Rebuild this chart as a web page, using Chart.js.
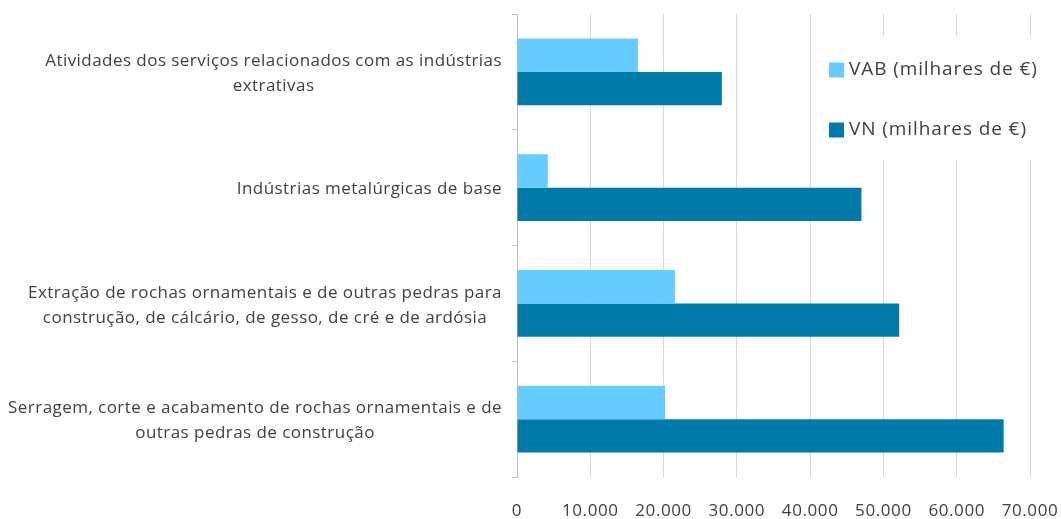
<!DOCTYPE html>
<html>
<head>
<meta charset="utf-8">
<script src="https://cdn.jsdelivr.net/npm/chart.js@4/dist/chart.umd.min.js"></script>
<style>
  html, body { margin: 0; padding: 0; background: #ffffff; overflow: hidden; }
  .wrap { position: relative; width: 1061px; height: 519px; }
  canvas { display: block; }
</style>
</head>
<body>
<div class="wrap"><canvas id="chart"></canvas></div>
<script>
// categories (each one split in lines as in the original)
var categories = [
  ['Atividades dos serviços relacionados com as indústrias', 'extrativas'],
  ['Indústrias metalúrgicas de base'],
  ['Extração de rochas ornamentais e de outras pedras para', 'construção, de cálcário, de gesso, de cré e de ardósia'],
  ['Serragem, corte e acabamento de rochas ornamentais e de', 'outras pedras de construção']
];
var seriesNames = ['VAB (milhares de €)', 'VN (milhares de €)'];
var vab = [16500, 4200, 21550, 20200];
var vn = [27950, 47000, 52150, 66400];
var tickValues = [0, 10000, 20000, 30000, 40000, 50000, 60000, 70000];

var textColor = '#404040';
var fontFamily = "'Open Sans', sans-serif";

function fmt(v){
    return v.toString().replace(/\B(?=(\d{3})+(?!\d))/g, '.');
}

// a bit of letter spacing for all text, like the original
var spacingPlugin = {
    id: 'spacing',
    beforeDraw: function(chart){
        chart.ctx.letterSpacing = '0.6px';
    }
};

// y labels: block right aligned, lines centred inside block (like the original)
var yLabelsPlugin = {
    id: 'yLabels',
    afterDraw: function(chart){
        var ctx = chart.ctx;
        var yScale = chart.scales.y;
        var rightEdge = chart.chartArea.left - 15;
        var lineH = 25;
        ctx.save();
        ctx.letterSpacing = '0.45px';
        ctx.font = '17px ' + fontFamily;
        ctx.fillStyle = textColor;
        ctx.textAlign = 'center';
        ctx.textBaseline = 'middle';
        categories.forEach(function(lines, i){
            var w = 0;
            lines.forEach(function(l){ w = Math.max(w, ctx.measureText(l).width); });
            var cx = rightEdge - w / 2;
            var cy = yScale.getPixelForValue(i) + 2;
            var top = cy - (lines.length - 1) * lineH / 2;
            lines.forEach(function(l, k){
                ctx.fillText(l, cx, top + k * lineH);
            });
        });
        ctx.restore();
    }
};

// legend drawn over the plot area, on a white box
var legendPlugin = {
    id: 'innerLegend',
    afterDraw: function(chart){
        var ctx = chart.ctx;
        ctx.save();
        ctx.fillStyle = '#ffffff';
        ctx.fillRect(822, 36, 1061 - 822, 124);
        ctx.letterSpacing = '0.9px';
        ctx.font = '19px ' + fontFamily;
        ctx.textBaseline = 'middle';
        ctx.textAlign = 'left';
        chart.data.datasets.forEach(function(ds, i){
            var y = 70 + i * 60;
            ctx.fillStyle = ds.backgroundColor;
            ctx.fillRect(829, y - 7.5, 15, 15);
            ctx.fillStyle = textColor;
            ctx.fillText(ds.label, 849, y);
        });
        ctx.restore();
    }
};

var ctx = document.getElementById('chart').getContext('2d');
var chart = new Chart(ctx, {
    type: 'bar',
    data: {
        labels: categories,
        datasets: [{
            label: seriesNames[0],
            data: vab,
            backgroundColor: '#66CCFF',
            borderWidth: 0
        }, {
            label: seriesNames[1],
            data: vn,
            backgroundColor: '#007AA8',
            borderWidth: 0
        }]
    },
    options: {
        indexAxis: 'y',
        responsive: true,
        maintainAspectRatio: false,
        animation: false,
        datasets: {
            bar: {
                categoryPercentage: 0.575,
                barPercentage: 1.0
            }
        },
        layout: {
            padding: { top: 14, right: 31, bottom: 0, left: 0 }
        },
        plugins: {
            legend: { display: false },
            tooltip: { enabled: false }
        },
        scales: {
            x: {
                min: 0,
                max: 70000,
                afterBuildTicks: function(scale){
                    scale.ticks = tickValues.map(function(v){ return { value: v }; });
                },
                afterFit: function(scale){
                    scale.height = 42;
                    scale.paddingLeft = 0;
                    scale.paddingRight = 0;
                },
                grid: {
                    color: '#d9d9d9',
                    lineWidth: 1,
                    drawTicks: false
                },
                border: { display: false },
                ticks: {
                    color: textColor,
                    font: { family: fontFamily, size: 17 },
                    padding: 24,
                    callback: function(v){ return fmt(v); }
                }
            },
            y: {
                afterFit: function(scale){ scale.width = 517; },
                grid: {
                    drawOnChartArea: false,
                    drawTicks: true,
                    tickLength: 5,
                    color: '#bfbfbf',
                    offset: true
                },
                border: { display: true, color: '#bfbfbf' },
                ticks: {
                    color: 'rgba(0,0,0,0)',
                    font: { family: fontFamily, size: 16 },
                    callback: function(){ return ''; }
                }
            }
        }
    },
    plugins: [spacingPlugin, yLabelsPlugin, legendPlugin]
});
</script>
</body>
</html>
